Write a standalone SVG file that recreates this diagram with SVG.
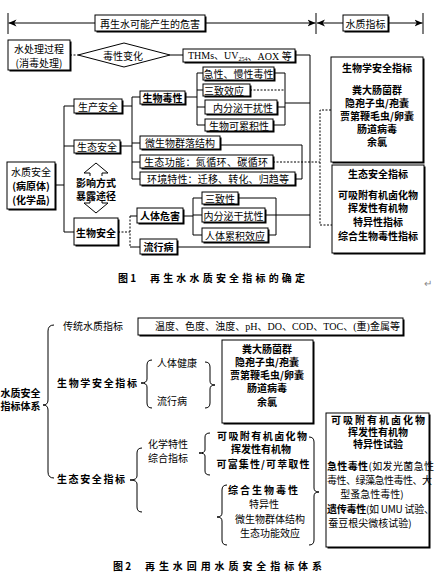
<svg xmlns="http://www.w3.org/2000/svg" width="446" height="574" viewBox="0 0 446 574">
<style>
text{font-family:"Noto Sans CJK SC","Noto Sans CJK JP",sans-serif;font-size:10px;fill:#000;text-anchor:middle;dominant-baseline:central}
.b{font-weight:bold}
.s{text-anchor:start}
.e{text-anchor:end}
.sf{font-family:"Liberation Serif","Noto Sans CJK SC",serif}
.bx{fill:#fff;stroke:#000;stroke-width:1}
.sh{fill:#000}
.ln line,.ln path,.ln polyline{stroke:#000;stroke-width:1;fill:none}
.d{stroke-dasharray:2,1.5}
.br{fill:none;stroke:#000;stroke-width:1}
</style>
<defs>
<marker id="ah" viewBox="0 0 8 8" refX="8" refY="4" markerWidth="8" markerHeight="8" markerUnits="userSpaceOnUse" orient="auto">
<path d="M0,0.5 L8,4 L0,7.5 L2.2,4 z" fill="#000"/>
</marker>
</defs>
<rect width="446" height="574" fill="#fff"/>

<!-- ========== Figure 1 connectors ========== -->
<g id="connectors1" class="ln">
<line x1="8" y1="13" x2="8" y2="34"/>
<line x1="316" y1="13" x2="316" y2="34"/>
<line x1="423" y1="13" x2="423" y2="34"/>
<line x1="95" y1="23" x2="8.5" y2="23" marker-end="url(#ah)"/>
<line x1="205" y1="23" x2="315.5" y2="23" marker-end="url(#ah)"/>
<line x1="343" y1="23" x2="317" y2="23" marker-end="url(#ah)"/>
<line x1="388" y1="23" x2="422.5" y2="23" marker-end="url(#ah)"/>
<line class="d" x1="70" y1="55" x2="78" y2="55"/>
<line x1="170" y1="55" x2="183" y2="55"/>
<polyline points="295,55 310,55 310,248"/>
<line x1="185" y1="97" x2="197" y2="97"/>
<line x1="197" y1="73" x2="197" y2="125"/>
<line x1="197" y1="73" x2="203" y2="73"/>
<line x1="197" y1="90" x2="203" y2="90"/>
<line x1="197" y1="107" x2="205" y2="107"/>
<line x1="197" y1="125" x2="205" y2="125"/>
<line x1="274" y1="73" x2="285" y2="73"/>
<line class="d" x1="250" y1="90" x2="285" y2="90"/>
<line x1="277" y1="107" x2="285" y2="107"/>
<line x1="273" y1="125" x2="285" y2="125"/>
<line x1="285" y1="73" x2="285" y2="125"/>
<line x1="285" y1="103" x2="310" y2="103"/>
<line x1="55" y1="185" x2="64" y2="185"/>
<line x1="64" y1="106" x2="64" y2="232"/>
<line x1="64" y1="106" x2="74" y2="106"/>
<line x1="64" y1="146" x2="74" y2="146"/>
<line x1="64" y1="232" x2="74" y2="232"/>
<line x1="122" y1="106" x2="132" y2="106"/>
<line x1="120" y1="146" x2="132" y2="146"/>
<line x1="132" y1="97" x2="132" y2="179"/>
<line x1="132" y1="97" x2="140" y2="97"/>
<line x1="132" y1="143" x2="140" y2="143"/>
<line x1="132" y1="162" x2="140" y2="162"/>
<line x1="132" y1="179" x2="140" y2="179"/>
<polyline points="220,145 302,145 302,179 295,179"/>
<line class="d" x1="273" y1="162" x2="320" y2="162"/>
<polyline class="d" points="331,110 320,110 320,225 332,225"/>
<line class="d" x1="118" y1="232" x2="130" y2="232"/>
<line class="d" x1="130" y1="216" x2="130" y2="247"/>
<line x1="130" y1="216" x2="137" y2="216"/>
<line x1="130" y1="247" x2="140" y2="247"/>
<line x1="183" y1="216" x2="193" y2="216"/>
<line x1="193" y1="198" x2="193" y2="235"/>
<line x1="193" y1="198" x2="202" y2="198"/>
<line x1="193" y1="215" x2="202" y2="215"/>
<line x1="193" y1="235" x2="202" y2="235"/>
<line x1="238" y1="198" x2="276" y2="198"/>
<line x1="268" y1="235" x2="276" y2="235"/>
<line x1="276" y1="198" x2="276" y2="235"/>
<line x1="265" y1="215" x2="310" y2="215"/>
<line x1="177" y1="247" x2="310" y2="247"/>
</g>

<!-- ========== Figure 1 nodes ========== -->
<g id="n-hazard-title"><rect class="sh" x="96.5" y="16.5" width="110" height="16"/><rect class="bx" x="95" y="15" width="110" height="16"/><text x="150" y="23" font-size="10.5" textLength="100">再生水可能产生的危害</text></g>
<g id="n-index-title"><rect class="sh" x="344.5" y="16.5" width="45" height="16"/><rect class="bx" x="343" y="15" width="45" height="16"/><text x="365.5" y="23" font-size="10.5">水质指标</text></g>
<g id="n-treatment"><rect class="sh" x="9.5" y="41.5" width="62" height="30"/><rect class="bx" x="8" y="40" width="62" height="30"/><text x="39" y="48" font-size="11">水处理过程</text><text x="39" y="62" font-size="11">(消毒处理)</text></g>
<g id="n-toxchange"><polygon class="bx" points="78,55 124,43 170,55 124,67"/><text x="123" y="55" font-size="10.5">毒性变化</text></g>
<g id="n-thms"><rect class="sh" x="184.5" y="50.5" width="112" height="13"/><rect class="bx" x="183" y="49" width="112" height="13"/><text class="s sf" x="188" y="55.5" font-size="10.5">THMs、UV<tspan font-size="6" dy="3">254</tspan><tspan dy="-3">、AOX 等</tspan></text></g>
<g id="n-prod"><rect class="sh" x="75.5" y="100.5" width="48" height="14"/><rect class="bx" x="74" y="99" width="48" height="14"/><text x="98" y="106" font-size="10.5">生产安全</text></g>
<g id="n-eco"><rect class="sh" x="75.5" y="141.5" width="46" height="13"/><rect class="bx" x="74" y="140" width="46" height="13"/><text x="97" y="146.5" font-size="10.5">生态安全</text></g>
<g id="n-biosafe"><rect class="sh" x="75.5" y="219.5" width="44" height="27"/><rect class="bx" x="74" y="218" width="44" height="27"/><text class="b" x="96" y="232" font-size="10.5">生物安全</text></g>
<g id="n-wq"><rect class="sh" x="8.5" y="163.5" width="48" height="47"/><rect class="bx" x="7" y="162" width="48" height="47"/><text x="31" y="171" font-size="10.5">水质安全</text><text class="b" x="31" y="185" font-size="10.5">(病原体)</text><text class="b" x="31" y="199" font-size="10.5">(化学品)</text></g>
<g id="n-exposure"><polygon class="bx" points="96,163 108,173 102,173 102,203 108,203 96,213 84,203 90,203 90,173 84,173"/><rect x="73" y="176" width="46" height="25" fill="#fff"/><text class="b" x="96" y="182" font-size="11">影响方式</text><text class="b" x="96" y="195" font-size="11">暴露途径</text></g>
<g id="n-biotox"><rect class="sh" x="141.5" y="92.5" width="45" height="13"/><rect class="bx" x="140" y="91" width="45" height="13"/><text class="b" x="162.5" y="97.5" font-size="10.5">生物毒性</text></g>
<g id="n-acute"><rect class="sh" x="204.5" y="68.5" width="71" height="13"/><rect class="bx" x="203" y="67" width="71" height="13"/><text x="238.5" y="73.5" font-size="10">急性、慢性毒性</text></g>
<g id="n-3effect"><rect class="sh" x="204.5" y="85.5" width="47" height="12"/><rect class="bx" x="203" y="84" width="47" height="12"/><text x="224" y="90" font-size="10">三致效应</text></g>
<g id="n-endo"><rect class="sh" x="206.5" y="101.5" width="72" height="14"/><rect class="bx" x="205" y="100" width="72" height="14"/><text x="243" y="107" font-size="10.5">内分泌干扰性</text></g>
<g id="n-accum"><rect class="sh" x="206.5" y="120.5" width="68" height="12"/><rect class="bx" x="205" y="119" width="68" height="12"/><text x="239" y="125" font-size="10.5">生物可累积性</text></g>
<g id="n-microbe"><rect class="sh" x="141.5" y="137.5" width="80" height="13"/><rect class="bx" x="140" y="136" width="80" height="13"/><text x="180" y="142.5" font-size="10">微生物群落结构</text></g>
<g id="n-ecofun"><rect class="sh" x="141.5" y="156.5" width="133" height="13"/><rect class="bx" x="140" y="155" width="133" height="13"/><text x="206" y="161.5" font-size="10" textLength="124">生态功能：氮循环、碳循环</text></g>
<g id="n-env"><rect class="sh" x="141.5" y="173.5" width="155" height="13"/><rect class="bx" x="140" y="172" width="155" height="13"/><text x="218" y="178.5" font-size="10" textLength="142">环境特性：迁移、转化、归趋等</text></g>
<g id="n-human"><rect class="sh" x="138.5" y="209.5" width="46" height="15"/><rect class="bx" x="137" y="208" width="46" height="15"/><text class="b" x="160" y="215.5" font-size="11">人体危害</text></g>
<g id="n-epidemic"><rect class="sh" x="141.5" y="240.5" width="37" height="15"/><rect class="bx" x="140" y="239" width="37" height="15"/><text class="b" x="158.5" y="246.5" font-size="11">流行病</text></g>
<g id="n-3z"><rect class="sh" x="203.5" y="193.5" width="36" height="12"/><rect class="bx" x="202" y="192" width="36" height="12"/><text x="220" y="198" font-size="10.5">三致性</text></g>
<g id="n-endo2"><rect class="sh" x="203.5" y="209.5" width="63" height="14"/><rect class="bx" x="202" y="208" width="63" height="14"/><text x="233.5" y="215" font-size="10.5">内分泌干扰性</text></g>
<g id="n-accum2"><rect class="sh" x="203.5" y="229.5" width="66" height="14"/><rect class="bx" x="202" y="228" width="66" height="14"/><text x="235" y="235" font-size="10.5">人体累积效应</text></g>
<g id="n-bioidx"><rect class="sh" x="332.5" y="58.5" width="92" height="105"/><rect class="bx" x="331" y="57" width="92" height="105"/>
<text class="b" x="377" y="67" font-size="10.5">生物学安全指标</text>
<text class="b" x="377" y="89" font-size="10">粪大肠菌群</text>
<text class="b" x="377" y="102" font-size="10">隐孢子虫/孢囊</text>
<text class="b" x="377" y="115" font-size="10">贾第鞭毛虫/卵囊</text>
<text class="b" x="377" y="128" font-size="10">肠道病毒</text>
<text class="b" x="377" y="141" font-size="10">余氯</text></g>
<g id="n-ecoidx"><rect class="sh" x="333.5" y="166.5" width="92" height="88"/><rect class="bx" x="332" y="165" width="92" height="88"/>
<text class="b" x="378" y="173" font-size="10.5">生态安全指标</text>
<text class="b" x="378" y="194" font-size="10">可吸附有机卤化物</text>
<text class="b" x="378" y="207.5" font-size="10">挥发性有机物</text>
<text class="b" x="378" y="221" font-size="10">特异性指标</text>
<text class="b" x="378" y="235" font-size="10">综合生物毒性指标</text></g>
<g id="cap1"><text class="b s" x="118" y="277" font-size="12">图 1</text><text class="b s" x="150" y="277" font-size="12" textLength="155">再生水水质安全指标的确定</text><text x="428" y="282" font-size="9" style="fill:#888">↵</text></g>

<!-- ========== Figure 2 ========== -->
<g id="connectors2">
<path class="br" d="M54,325 Q48,325 48,331 L48,400 Q48,405 43,405 Q48,405 48,410 L48,472 Q48,478 54,478"/>
<path class="br" d="M152,360 Q147,360 147,365 L147,379 Q147,383 141,383 Q147,383 147,387 L147,403 Q147,408 152,408"/>
<path class="br" d="M205,362 Q210,362 210,367 L210,381 Q210,385 215,385 Q210,385 210,389 L210,403 Q210,408 205,408"/>
<path class="br" d="M142,448 Q137,448 137,453 L137,476 Q137,480 130,480 Q137,480 137,484 L137,507 Q137,512 142,512"/>
<path class="br" d="M210,433 Q205,433 205,437 L205,450 Q205,453 199,453 Q205,453 205,456 L205,471 Q205,475 210,475"/>
<path class="br" d="M227,485 Q222,485 222,490 L222,513 Q222,517 217,517 Q222,517 222,521 L222,540 Q222,545 227,545"/>
<path class="br" d="M309,437 Q314,437 314,442 L314,488 Q314,492 319,492 Q314,492 314,496 L314,540 Q314,545 309,545"/>
</g>
<g id="n2-root"><text class="b s" x="0.5" y="392" font-size="10">水质安全</text><text class="b s" x="0.5" y="405" font-size="10">指标体系</text></g>
<g id="n2-trad"><text x="93" y="325" font-size="10">传统水质指标</text></g>
<g id="n2-tradbox"><rect class="sh" x="139.5" y="319.5" width="265" height="17"/><rect class="bx" x="138" y="318" width="265" height="17"/><text class="s sf" x="155" y="326.5" font-size="10.5" textLength="245">温度、色度、浊度、pH、DO、COD、TOC、(重)金属等</text></g>
<g id="n2-bio"><text class="b" x="97" y="382" font-size="11" textLength="80">生物学安全指标</text></g>
<g id="n2-health"><text x="177" y="362" font-size="10">人体健康</text><text x="172" y="400" font-size="10">流行病</text></g>
<g id="n2-biobox"><rect class="sh" x="223.5" y="341.5" width="91" height="83"/><rect class="bx" x="222" y="340" width="91" height="83"/>
<text class="b" x="267" y="348" font-size="10.5">粪大肠菌群</text>
<text class="b" x="267" y="361" font-size="10.5">隐孢子虫/孢囊</text>
<text class="b" x="267" y="374" font-size="10.5">贾第鞭毛虫/卵囊</text>
<text class="b" x="267" y="387" font-size="10.5">肠道病毒</text>
<text class="b" x="267" y="401" font-size="10.5">余氯</text></g>
<g id="n2-eco"><text class="b" x="91" y="478" font-size="11" textLength="68">生态安全指标</text></g>
<g id="n2-chem"><text x="168" y="443" font-size="10">化学特性</text><text x="168" y="457" font-size="10">综合指标</text></g>
<g id="n2-chemlist"><text class="b" x="262" y="435" font-size="10.5" textLength="90">可吸附有机卤化物</text><text class="b" x="261" y="448.5" font-size="10.5">挥发性有机物</text><text class="b" x="263" y="463" font-size="10.5" textLength="93">可富集性/可萃取性</text></g>
<g id="n2-tox"><text class="b" x="263" y="489" font-size="10.5" textLength="70">综合生物毒性</text><text x="264" y="503" font-size="10">特异性</text><text x="270" y="518" font-size="9.5">微生物群体结构</text><text x="270" y="532" font-size="10">生态功能效应</text></g>
<g id="n2-testbox"><rect class="sh" x="327.5" y="414.5" width="103" height="134"/><rect class="bx" x="326" y="413" width="103" height="134"/>
<text class="b" x="378" y="419.5" font-size="10.5" textLength="94">可吸附有机卤化物</text>
<text class="b" x="378" y="431.5" font-size="10.5">挥发性有机物</text>
<text class="b" x="378" y="443.5" font-size="10.5">特异性试验</text>
<text class="s" x="327" y="465" font-size="10" textLength="107"><tspan font-weight="bold">急性毒性</tspan>(如发光菌急性</text>
<text class="s" x="327" y="479" font-size="10" textLength="105">毒性、绿藻急性毒性、大</text>
<text x="372" y="493" font-size="10">型蚤急性毒性)</text>
<text class="s" x="327" y="508" font-size="10" textLength="107"><tspan font-weight="bold">遗传毒性</tspan>(如 UMU 试验、</text>
<text x="370" y="522" font-size="10">蚕豆根尖微核试验)</text></g>
<g id="cap2"><text class="b s" x="113" y="565" font-size="12">图 2</text><text class="b s" x="145" y="565" font-size="12" textLength="177">再生水回用水质安全指标体系</text></g>
</svg>
